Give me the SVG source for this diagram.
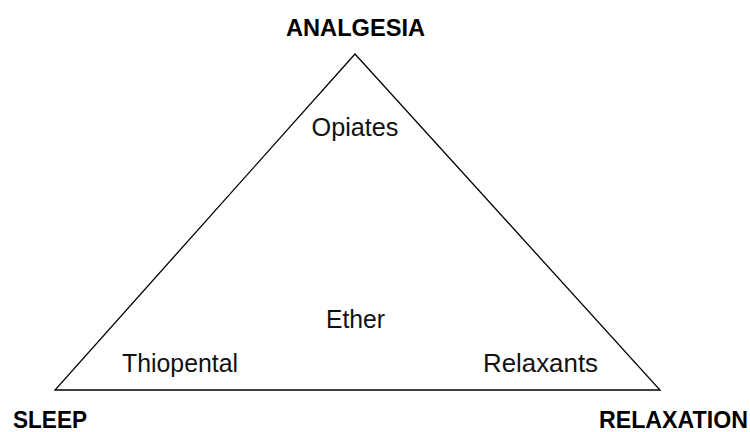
<svg xmlns="http://www.w3.org/2000/svg" width="750" height="432" viewBox="0 0 750 432">
<style>
.edge{fill:none;stroke:#000;stroke-width:1.3;stroke-linejoin:miter}
.corner{font-family:"Liberation Sans",Arial,sans-serif;font-weight:bold;font-size:23px;fill:#000;text-anchor:middle}
.drug{font-family:"Liberation Sans",Arial,sans-serif;font-size:25px;fill:#111;text-anchor:middle}
</style>
<rect width="750" height="432" fill="#fff"/>
<g id="connectors">
<polygon class="edge" points="355,54 55,390 660,390"/>
</g>
<g id="analgesia"><text class="corner" x="355.5" y="36" textLength="139" lengthAdjust="spacingAndGlyphs">ANALGESIA</text></g>
<g id="sleep"><text class="corner" x="50" y="428" textLength="74" lengthAdjust="spacingAndGlyphs">SLEEP</text></g>
<g id="relaxation"><text class="corner" x="673.5" y="428" textLength="149" lengthAdjust="spacingAndGlyphs">RELAXATION</text></g>
<g id="opiates"><text class="drug" x="355" y="136" textLength="87" lengthAdjust="spacingAndGlyphs">Opiates</text></g>
<g id="ether"><text class="drug" x="355.5" y="328" textLength="59" lengthAdjust="spacingAndGlyphs">Ether</text></g>
<g id="thiopental"><text class="drug" x="180" y="372" textLength="116" lengthAdjust="spacingAndGlyphs">Thiopental</text></g>
<g id="relaxants"><text class="drug" x="540.5" y="372" textLength="115" lengthAdjust="spacingAndGlyphs">Relaxants</text></g>
</svg>
